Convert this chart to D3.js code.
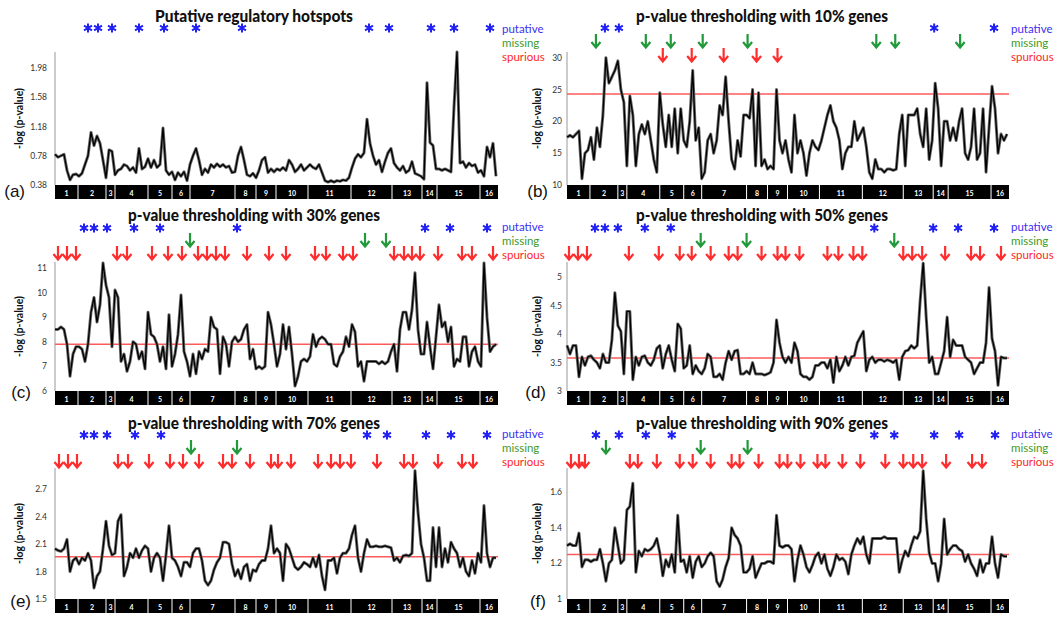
<!DOCTYPE html>
<html><head><meta charset="utf-8">
<script src="https://cdn.jsdelivr.net/npm/d3@7"></script>
<style>body{margin:0;background:#fff}svg{display:block}</style>
</head><body><svg id="c" width="1063" height="617"></svg>
<script>
// ---------- data ----------
const chromLabels = ["1","2","3","4","5","6","7","8","9","10","11","12","13","14","15","16"];
const chromSizes = [23,28,9,33,24,18,45,21,20,32,43,41,30,15,43,18];
const markerPos = d3.range(0, 444, 3); // marker index along the genome

const titles = ["Putative regulatory hotspots","p-value thresholding with 10% genes","p-value thresholding with 30% genes",
  "p-value thresholding with 50% genes","p-value thresholding with 70% genes","p-value thresholding with 90% genes"];
const panelLetters = ["(a)","(b)","(c)","(d)","(e)","(f)"];
const legendLabels = ["putative","missing","spurious"];

const ticksA = ["0.38","0.78","1.18","1.58","1.98"];
const ticksB = ["10","15","20","25","30"];
const ticksC = ["6","7","8","9","10","11"];
const ticksD = ["3","3.5","4","4.5","5"];
const ticksE = ["1.5","1.8","2.1","2.4","2.7"];
const ticksF = ["1","1.2","1.4","1.6"];

const thresholds = [null, 24.3, 7.9, 3.58, 1.96, 1.25];

const valuesA = [0.80,0.76,0.78,0.80,0.58,0.45,0.52,0.53,0.50,0.54,
0.66,0.78,1.10,0.92,1.05,0.95,0.72,0.48,0.86,0.84,
0.52,0.58,0.60,0.66,0.64,0.58,0.62,0.55,0.88,0.60,
0.63,0.74,0.62,0.72,0.62,0.66,1.16,0.58,0.52,0.56,
0.45,0.55,0.50,0.56,0.44,0.66,0.78,0.88,0.72,0.52,
0.60,0.55,0.66,0.62,0.67,0.63,0.66,0.62,0.64,0.55,
0.56,0.78,0.90,0.72,0.52,0.50,0.54,0.48,0.58,0.72,
0.76,0.55,0.60,0.56,0.60,0.58,0.62,0.58,0.72,0.66,
0.56,0.60,0.66,0.58,0.62,0.66,0.62,0.60,0.66,0.55,
0.44,0.42,0.44,0.42,0.44,0.43,0.45,0.44,0.48,0.62,
0.74,0.80,0.76,0.82,1.28,0.95,0.78,0.66,0.72,0.56,
0.70,0.82,0.88,0.68,0.62,0.58,0.64,0.55,0.58,0.70,
0.54,0.52,0.50,0.46,1.78,0.96,0.92,0.60,0.60,0.58,
0.60,0.58,0.56,1.45,2.20,0.68,0.70,0.62,0.68,0.64,
0.66,0.55,0.58,0.50,0.90,0.76,0.95,0.50];

const valuesB = [17.5,17.8,17.5,18,18.5,11,15,15.5,17.5,14,
19,16,21,30,26,27,28,29.5,25,23,
13,24,21,13,18,19.5,18,20,17,14,
12,24.5,19.5,16,21,16,22,15,22,17,
16,20,28,17,19,11,12,17,18,15,
17,22.5,21,27,20,14,12.5,17,14.5,21,
21,20.5,25,13,24.5,13,14,12.5,13,12.5,
25,17,15,17,14,12,21,15,17,15,
11.5,15,17,16,15.5,17,19,21,22.5,20,
19,17,12.5,15,16,16,20,17,18,19,
16,12,11,14,12.5,12.5,12,12.5,12.5,12.3,
12.5,18,21,13,21,21,21,22,18,16,
22,14,17,26,22,13,20,20,17,19,
17,20,22,15,14,16,22,14,15,22,
12,19,25.5,22,15,18,17,18];

const valuesC = [8.5,8.5,8.6,8.5,7.9,6.6,7.5,7.8,7.8,7.7,
7.2,7.9,9.2,9.8,8.8,9.5,11.2,10.3,9.8,7.8,
10.1,9.8,7.2,7.5,6.8,7.2,8,7.9,7.3,7.6,
6.9,9.2,8.3,8.2,7.9,7.2,7.8,6.9,9.1,7.0,
7.5,8.3,9.9,7.6,7.2,6.6,7.5,6.7,7.6,7.3,
7.7,7.6,9.0,8.6,8.5,6.7,8.2,7.9,7.0,8.0,
8.2,8.0,8.1,8.5,8.7,7.3,7.7,6.9,7.0,6.9,
7.0,9.2,8.7,7.9,7.0,7.5,8.7,7.7,8.6,7.5,
6.2,6.6,7.2,7.3,7.2,7.4,8.3,7.8,8.1,8.2,
8.1,7.9,7.9,7.1,7.0,7.4,7.6,8.2,7.8,8.7,
8.4,7.0,7.2,6.4,7.2,7.2,7.2,7.2,7.1,7.2,
7.1,7.2,7.6,7.9,6.8,8.5,9.2,9.2,8.5,9.3,
10.8,8.5,7.5,7.5,8.8,7.8,6.9,8.2,9.5,8.6,
8.8,8.0,8.6,7.0,7.3,7.2,8.2,8.2,7.0,7.6,
7.8,7.2,7.0,11.2,9.0,7.6,7.8,7.9];

const valuesD = [3.8,3.65,3.8,3.8,3.25,3.6,3.45,3.6,3.62,3.55,
3.5,3.4,3.65,3.5,3.5,3.9,4.73,4.15,4.05,3.3,
4.4,4.4,3.2,3.6,3.45,3.6,3.62,3.5,3.45,3.55,
3.75,3.8,3.4,3.65,3.8,3.55,3.35,4.18,4.1,3.4,
3.45,3.8,3.3,3.45,3.35,3.3,3.4,3.65,3.6,3.25,
3.25,3.3,3.2,3.5,3.7,3.55,3.7,3.72,3.3,3.3,
3.35,3.3,3.5,3.3,3.3,3.3,3.28,3.3,3.33,3.5,
4.25,3.85,3.6,3.5,3.6,3.5,3.85,3.7,3.3,3.25,
3.25,3.2,3.25,3.45,3.45,3.5,3.5,3.4,3.55,3.15,
3.6,3.35,3.45,3.6,3.45,3.6,3.62,3.85,3.95,4.05,
3.35,3.55,3.6,3.5,3.55,3.55,3.52,3.55,3.53,3.5,
3.55,3.2,3.6,3.7,3.72,3.8,3.75,3.8,4.6,5.25,
4.3,3.5,3.6,3.3,3.3,3.5,3.7,4.3,3.6,3.9,
3.8,3.8,3.8,3.6,3.55,3.5,3.3,3.4,3.5,3.5,
3.85,4.82,3.92,3.7,3.1,3.6,3.58,3.58];

const valuesE = [2.05,2.03,2.02,2.05,2.15,1.8,1.92,1.95,1.88,1.95,
1.92,2.0,1.92,1.62,1.75,1.8,2.05,2.35,2.08,1.98,
2.0,2.35,2.42,1.75,1.85,2.0,1.95,2.05,1.95,2.03,
2.08,2.05,1.8,1.95,2.0,1.95,1.7,1.98,2.3,1.95,
1.92,1.85,1.75,1.9,1.9,1.85,2.0,2.05,2.05,1.92,
1.7,1.65,1.7,1.82,1.9,1.95,2.12,2.12,2.1,1.88,
1.75,1.82,1.72,1.85,1.88,1.7,1.82,1.8,1.88,1.92,
1.92,2.05,2.3,2.0,2.05,2.0,1.7,2.1,2.05,1.95,
1.85,1.82,1.85,1.9,1.88,1.85,1.95,1.85,1.98,1.75,
1.6,1.92,1.92,1.95,1.78,1.95,2.0,2.0,2.05,2.2,
2.3,1.95,1.8,2.0,2.15,2.07,2.07,2.08,2.07,2.07,
2.08,2.07,2.06,1.92,1.95,1.9,1.97,1.98,1.97,2.0,
2.9,2.45,2.1,1.95,1.7,1.7,2.28,1.85,2.28,1.85,
2.05,1.9,2.12,2.05,2.0,1.85,1.95,1.8,1.75,1.92,
1.78,2.0,1.9,2.52,2.0,1.85,1.95,1.95];

const valuesF = [1.3,1.31,1.3,1.3,1.37,1.18,1.22,1.22,1.21,1.22,
1.22,1.28,1.2,1.1,1.2,1.22,1.4,1.3,1.2,1.22,
1.5,1.52,1.65,1.15,1.27,1.24,1.28,1.27,1.28,1.3,
1.34,1.26,1.13,1.22,1.18,1.25,1.15,1.47,1.21,1.22,
1.15,1.24,1.12,1.21,1.24,1.18,1.2,1.24,1.26,1.24,
1.1,1.07,1.11,1.18,1.23,1.4,1.36,1.34,1.3,1.15,
1.15,1.17,1.24,1.12,1.16,1.2,1.2,1.21,1.21,1.2,
1.47,1.3,1.29,1.3,1.3,1.28,1.1,1.22,1.3,1.25,
1.18,1.15,1.19,1.24,1.26,1.2,1.25,1.17,1.13,1.18,
1.25,1.22,1.23,1.21,1.14,1.25,1.3,1.34,1.31,1.35,
1.25,1.2,1.34,1.34,1.34,1.34,1.35,1.34,1.34,1.34,
1.34,1.15,1.22,1.27,1.24,1.3,1.35,1.34,1.38,1.72,
1.45,1.26,1.2,1.2,1.1,1.2,1.45,1.25,1.28,1.3,
1.3,1.28,1.27,1.21,1.25,1.2,1.17,1.13,1.22,1.15,
1.2,1.2,1.35,1.2,1.12,1.25,1.24,1.24];

// marker positions (genome marker index) of putative hotspots, missing and spurious calls
const putA = [33,43,57,84,109,141,187,314,334,376,399,435], missA = [], spurA = [];
const putB = [38,52,368,428], missB = [29,79,104,136,181,310,329,394], spurB = [96,125,157,190,211];
const putC = [29,39,52,79,105,182,370,395,432], missC = [135,310,331];
const spurC = [3,12,21,62,72,97,113,127,143,152,161,170,192,214,231,260,271,288,298,339,349,357,365,383,407,417,438];
const putD = [28,38,51,78,104,308,367,392,428], missD = [134,180,328];
const spurD = [2,11,20,62,92,113,125,144,162,171,195,211,219,233,261,272,287,296,337,346,356,379,405,414,435];
const putE = [29,39,52,80,106,312,332,371,396,432], missE = [136,182];
const spurE = [4,13,22,63,73,94,115,128,144,168,177,195,216,223,236,263,276,285,296,322,349,358,383,407,418];
const putF = [29,52,79,105,308,328,368,393,429], missF = [39,134,181];
const spurF = [4,12,18,63,71,90,113,126,144,165,173,192,213,221,234,251,259,276,294,319,337,347,356,380,406,416];

// ---------- layout ----------
const cols = [{left:55, right:498, labelX:19, letterEnd:[25,31,31], legendX:502, tickGap:8},
              {left:567, right:1009, labelX:537, letterEnd:[548,546,546], legendX:1011, tickGap:5}];
const rows = [{titleY:15, starY:28, missY:41, spurY:55, top:52, bottom:185, letterY:197, legY:[28,42,56]},
              {titleY:214, starY:228, missY:240, spurY:253, top:262, bottom:391, letterY:398, legY:[226,240,254]},
              {titleY:422, starY:435, missY:447, spurY:461, top:468, bottom:599, letterY:607, legY:[433,447,461]}];
const yDomains = [[0.38,2.2],[10,30.9],[6,11.24],[3,5.27],[1.5,2.93],[1,1.736]];
const titleLen = [198,252,252,252,252,252];

const panels = [
  {values:valuesA, ticks:ticksA, put:putA, miss:missA, spur:spurA},
  {values:valuesB, ticks:ticksB, put:putB, miss:missB, spur:spurB},
  {values:valuesC, ticks:ticksC, put:putC, miss:missC, spur:spurC},
  {values:valuesD, ticks:ticksD, put:putD, miss:missD, spur:spurD},
  {values:valuesE, ticks:ticksE, put:putE, miss:missE, spur:spurE},
  {values:valuesF, ticks:ticksF, put:putF, miss:missF, spur:spurF}
];

const svg = d3.select("#c");
const FONT = "Lato, 'Open Sans', sans-serif";
const BLUE = "#2020f5", GREEN = "#22993a", RED = "#ff2d2d";
const chromStarts = d3.cumsum([0].concat(chromSizes));
const total = d3.sum(chromSizes);

function arrow(g, x, y, color) {
  g.append("path")
    .attr("d", `M${x},${y-7}L${x},${y+6}M${x-4.5},${y+1}L${x},${y+6.5}L${x+4.5},${y+1}`)
    .attr("fill","none").attr("stroke",color).attr("stroke-width",2.2);
}
function star(g, x, y) {
  const r = 4.6;
  let d = "";
  [90,30,150].forEach(a => {
    const rad = a*Math.PI/180, dx = r*Math.cos(rad), dy = r*Math.sin(rad);
    d += `M${x-dx},${y-dy}L${x+dx},${y+dy}`;
  });
  g.append("path").attr("d", d).attr("stroke", BLUE).attr("stroke-width", 2).attr("fill","none");
}

panels.forEach((p, i) => {
  const col = cols[i % 2], row = rows[Math.floor(i / 2)], ri = Math.floor(i/2);
  const g = svg.append("g");
  const x = d3.scaleLinear().domain([0, total]).range([col.left, col.right]);
  const y = d3.scaleLinear().domain(yDomains[i]).range([row.bottom, row.top]);

  // title
  g.append("text").attr("x", i%2 ? 762 : 254).attr("y", row.titleY).attr("text-anchor","middle")
    .attr("dominant-baseline","central").attr("font-family",FONT).attr("font-weight","900")
    .attr("font-size",16).attr("fill","#111").attr("textLength", titleLen[i])
    .attr("lengthAdjust","spacingAndGlyphs").text(titles[i]);

  // legend
  [0,1,2].forEach(j => {
    g.append("text").attr("x", col.legendX).attr("y", row.legY[j])
      .attr("dominant-baseline","central").attr("font-family",FONT).attr("font-size",11.5)
      .attr("fill", j===0 ? "#3b2ff0" : j===1 ? "#3f9a2a" : "#ff1f1f").text(legendLabels[j]);
  });

  // markers
  p.put.forEach(m => star(g, x(m), row.starY));
  p.miss.forEach(m => arrow(g, x(m), row.missY, GREEN));
  p.spur.forEach(m => arrow(g, x(m), row.spurY, RED));

  // y axis
  g.append("line").attr("x1",col.left).attr("x2",col.left).attr("y1",row.top).attr("y2",row.bottom)
    .attr("stroke","#999").attr("stroke-width",1);
  p.ticks.forEach(t => {
    g.append("text").attr("x", col.left - col.tickGap).attr("y", y(+t)).attr("text-anchor","end")
      .attr("dominant-baseline","central").attr("font-family",FONT).attr("font-size",8.5)
      .attr("fill","#333").text(t);
  });
  const ym = (row.top + row.bottom) / 2;
  g.append("text").attr("transform",`translate(${col.labelX},${ym}) rotate(-90)`)
    .attr("text-anchor","middle").attr("dominant-baseline","central").attr("font-family",FONT)
    .attr("font-weight","bold").attr("font-size",10.5).attr("fill","#111").text("-log (p-value)");

  // panel letter
  g.append("text").attr("x", col.letterEnd[ri]).attr("y", row.letterY).attr("text-anchor","end")
    .attr("font-family","'Liberation Sans', Arial, sans-serif").attr("font-size",17).attr("fill","#111")
    .text(panelLetters[i]);

  // chromosome bar
  const bar = g.append("g");
  chromSizes.forEach((s, k) => {
    bar.append("rect").attr("x", x(chromStarts[k])).attr("y", row.bottom)
      .attr("width", x(chromStarts[k+1]) - x(chromStarts[k])).attr("height", 14).attr("fill","#000");
    bar.append("text").attr("x", x(chromStarts[k] + s/2)).attr("y", row.bottom + 7.5)
      .attr("text-anchor","middle").attr("dominant-baseline","central").attr("font-family",FONT)
      .attr("font-weight","bold").attr("font-size",7).attr("fill","#fff").text(chromLabels[k]);
    if (k > 0) bar.append("line").attr("x1", x(chromStarts[k])).attr("x2", x(chromStarts[k]))
      .attr("y1", row.bottom).attr("y2", row.bottom + 14).attr("stroke","#fff").attr("stroke-width",1);
  });

  // threshold
  if (thresholds[i] !== null) {
    g.append("line").attr("x1", col.left).attr("x2", col.right).attr("y1", y(thresholds[i])).attr("y2", y(thresholds[i]))
      .attr("stroke","#ff5a5a").attr("stroke-width",1.5);
  }

  // signal line
  const pts = p.values.map((v, k) => [markerPos[k], v]);
  const line = d3.line().x(d => x(d[0])).y(d => y(d[1]));
  g.append("path").attr("d", line(pts)).attr("fill","none").attr("stroke","#6a6a6a").attr("stroke-width",3)
    .attr("stroke-linejoin","round");
  g.append("path").attr("d", line(pts)).attr("fill","none").attr("stroke","#000").attr("stroke-width",1.3)
    .attr("stroke-linejoin","round");
});
</script></body></html>
